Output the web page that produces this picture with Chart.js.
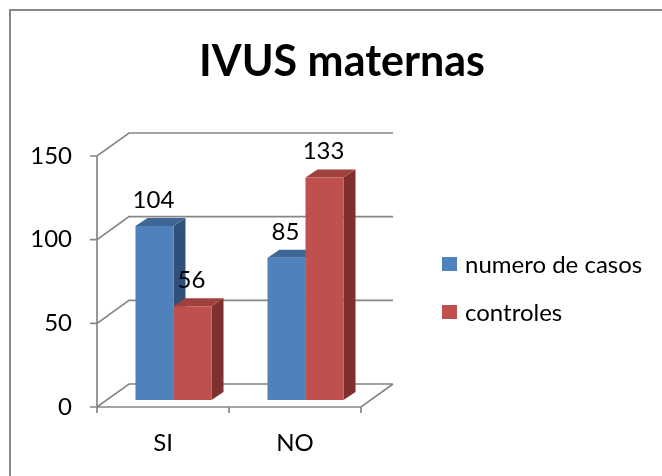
<!DOCTYPE html>
<html>
<head>
<meta charset="utf-8">
<script src="https://cdn.jsdelivr.net/npm/chart.js@4.4.1/dist/chart.umd.min.js"></script>
<style>
  html, body { margin: 0; padding: 0; background: #fff; }
  #wrap { position: relative; width: 662px; height: 476px; overflow: hidden; }
  #frame { position: absolute; left: 9px; top: 9px; width: 720px; height: 520px; border: 2px solid #878787; box-sizing: border-box; }
  #c { position: absolute; left: 0; top: 0; }
</style>
</head>
<body>
<div id="wrap">
  <div id="frame"></div>
  <canvas id="c" width="662" height="476"></canvas>
</div>
<script>
// data
const chartTitle = 'IVUS maternas';
const categories = ['SI', 'NO'];
const seriesNames = ['numero de casos', 'controles'];
const casos = [104, 85];
const controles = [56, 133];
const yTicks = [0, 50, 100, 150];

const FONT = 'Lato, "DejaVu Sans", sans-serif';
const GRID = '#868686';
const frontColors = ['#4F81BD', '#C0504D'];
const topColors = ['#3E6797', '#A0413E'];
const sideColors = ['#30507A', '#7E302E'];

// 3d look: depth of the walls and of the bars
const WALL_DX = 32, WALL_DY = -23;   // back wall offset
const BAR_DX = 10.5, BAR_DY = -7;    // bars sit a bit behind the front plane
const BOX_DX = 12, BOX_DY = -8;      // bar depth

function poly(ctx, pts, fill) {
    ctx.beginPath();
    ctx.moveTo(pts[0][0], pts[0][1]);
    for (let i = 1; i < pts.length; i++) ctx.lineTo(pts[i][0], pts[i][1]);
    ctx.closePath();
    ctx.fillStyle = fill;
    ctx.fill();
}

const walls3d = {
    id: 'walls3d',
    beforeDatasetsDraw(chart) {
        const { ctx, chartArea: a, scales } = chart;
        const ys = scales.y;
        const L = a.left, R = a.right;
        ctx.save();
        ctx.strokeStyle = GRID;
        ctx.lineWidth = 1.7;
        ctx.beginPath();
        yTicks.forEach(v => {
            const y = ys.getPixelForValue(v);
            // tick mark + side wall diagonal
            ctx.moveTo(L - 7, y); ctx.lineTo(L, y);
            ctx.lineTo(L + WALL_DX, y + WALL_DY);
            ctx.lineTo(R + WALL_DX, y + WALL_DY);
        });
        // floor front edge and right edge
        const y0 = ys.getPixelForValue(0);
        ctx.moveTo(L, y0); ctx.lineTo(R, y0); ctx.lineTo(R + WALL_DX, y0 + WALL_DY);
        // front axis line
        ctx.moveTo(L, ys.getPixelForValue(yTicks[yTicks.length - 1])); ctx.lineTo(L, y0);
        // category ticks
        const step = (R - L) / categories.length;
        for (let i = 0; i <= categories.length; i++) {
            ctx.moveTo(L + i * step, y0); ctx.lineTo(L + i * step, y0 + 6);
        }
        ctx.stroke();

        // side and top faces of the bars
        chart.data.datasets.forEach((ds, di) => {
            chart.getDatasetMeta(di).data.forEach(el => {
                const l = el.x - el.width / 2 + BAR_DX, r = el.x + el.width / 2 + BAR_DX;
                const t = el.y + BAR_DY, b = el.base + BAR_DY;
                poly(ctx, [[r, t], [r + BOX_DX, t + BOX_DY], [r + BOX_DX, b + BOX_DY], [r, b]], sideColors[di]);
                poly(ctx, [[l, t], [r, t], [r + BOX_DX, t + BOX_DY], [l + BOX_DX, t + BOX_DY]], topColors[di]);
            });
        });
        ctx.restore();
        // shift the front faces
        ctx.save();
        ctx.translate(BAR_DX, BAR_DY);
    },
    afterDatasetsDraw(chart) {
        const ctx = chart.ctx;
        ctx.restore();
        ctx.save();
        ctx.font = '24px ' + FONT;
        ctx.fillStyle = '#000';
        ctx.textAlign = 'center';
        ctx.textBaseline = 'middle';
        chart.data.datasets.forEach((ds, di) => {
            chart.getDatasetMeta(di).data.forEach((el, i) => {
                ctx.fillText(String(ds.data[i]), el.x + BAR_DX - 1, el.y + BAR_DY - 26);
            });
        });
        ctx.restore();
    },
    afterDraw(chart) {
        const ctx = chart.ctx;
        ctx.save();
        // title
        ctx.font = 'bold 43px ' + FONT;
        ctx.fillStyle = '#000';
        ctx.textAlign = 'center';
        ctx.textBaseline = 'middle';
        ctx.fillText(chartTitle, 342, 62);
        // legend
        ctx.font = '24px ' + FONT;
        ctx.textAlign = 'left';
        chart.data.datasets.forEach((ds, di) => {
            const cy = 264 + di * 48;
            ctx.fillStyle = ds.backgroundColor;
            ctx.fillRect(442, cy - 7, 15, 14);
            ctx.fillStyle = '#000';
            ctx.fillText(ds.label, 465, cy + 1);
        });
        ctx.restore();
    }
};

new Chart(document.getElementById('c'), {
    type: 'bar',
    data: {
        labels: categories,
        datasets: [
            { label: seriesNames[0], data: casos, backgroundColor: frontColors[0] },
            { label: seriesNames[1], data: controles, backgroundColor: frontColors[1] }
        ]
    },
    options: {
        responsive: false,
        animation: false,
        events: [],
        layout: { padding: { left: 0, right: 301, top: 156, bottom: 0 } },
        datasets: { bar: { categoryPercentage: 0.576, barPercentage: 1 } },
        plugins: { legend: { display: false }, title: { display: false }, tooltip: { enabled: false } },
        scales: {
            x: {
                grid: { display: false, drawTicks: false },
                border: { display: false },
                ticks: { color: '#000', font: { family: FONT, size: 24 }, padding: 22 },
                afterFit(s) { s.height = 69; }
            },
            y: {
                min: 0, max: 150,
                grid: { display: false, drawTicks: false },
                border: { display: false },
                ticks: { stepSize: 50, color: '#000', font: { family: FONT, size: 24 }, padding: 25 },
                afterFit(s) { s.width = 97; }
            }
        }
    },
    plugins: [walls3d]
});
</script>
</body>
</html>
